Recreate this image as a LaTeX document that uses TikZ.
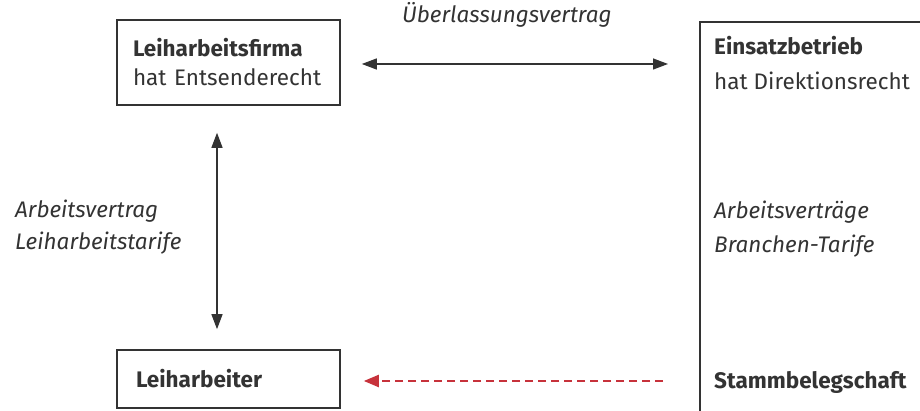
\documentclass[tikz,border=0pt]{standalone}
\usepackage{fontspec}
\setmainfont{Fira Sans}
\usepackage{xcolor}
\usepackage{tikz}
\usetikzlibrary{arrows.meta,positioning,calc}
\definecolor{inkgray}{HTML}{333333}
\definecolor{leasered}{HTML}{C7323B}
\tikzset{
  partybox/.style={draw=inkgray,line width=1.6pt,align=left,text=inkgray,
    inner xsep=16pt,text width=191pt,font=\fontsize{22.5}{29}\selectfont},
  plaintext/.style={anchor=base west,inner sep=0pt,align=left,text=inkgray,
    font=\fontsize{22.5}{29}\selectfont},
  contractarrow/.style={{Triangle[length=15pt,width=11pt]}-{Triangle[length=15pt,width=11pt]},
    line width=1.3pt,draw=inkgray},
  staffarrow/.style={-{Triangle[length=15pt,width=12pt]},line width=2.2pt,
    draw=leasered,dash pattern=on 8pt off 5pt}
}

\begin{document}
\begin{tikzpicture}[x=1pt,y=1pt]
  \useasboundingbox (0,0) rectangle (920,411);
  \clip (0,0) rectangle (920,411);
  % parties
  \node[partybox,minimum width=223pt,minimum height=85pt] (firma) at (228.5,348.5)
    {\textbf{Leiharbeitsfirma}\\hat Entsenderecht};
  \node[partybox,minimum width=223pt,minimum height=58pt,inner xsep=19pt,text width=185pt]
    (arbeiter) at (228.5,32) {\textbf{Leiharbeiter}};
  \coordinate (frame) at (700,389);
  \draw[inkgray,line width=1.6pt] (frame |- 0,-10) -- (frame) -- ++(240,0);
  \node[plaintext,font=\fontsize{22.5}{35}\selectfont] (einsatz) at (714,321)
    {\textbf{Einsatzbetrieb}\\hat Direktionsrecht};
  \node[plaintext] (stamm) at (714,22) {\textbf{Stammbelegschaft}};
  % contracts
  \node[plaintext] (ueberlassung) at (402,388) {\textit{Überlassungsvertrag}};
  \node[plaintext,font=\fontsize{22.5}{32}\selectfont] (leihvertrag) at (15,161)
    {\textit{Arbeitsvertrag}\\\textit{Leiharbeitstarife}};
  \node[plaintext,font=\fontsize{22.5}{34}\selectfont] (branche) at (714,158)
    {\textit{Arbeitsverträge}\\\textit{Branchen-Tarife}};
  % arrows
  \draw[contractarrow,shorten <=21pt,shorten >=32pt] ([yshift=-1.5pt]firma.east) -- ([yshift=-1.5pt]firma.east -| frame);
  \draw[contractarrow,shorten <=27pt,shorten >=20pt] ([xshift=-11.5pt]firma.south) -- ([xshift=-11.5pt]arbeiter.north);
  \draw[staffarrow,shorten <=51pt,shorten >=23pt] ([yshift=-2pt]stamm.west |- arbeiter.east) -- ([yshift=-2pt]arbeiter.east);
\end{tikzpicture}
\end{document}
